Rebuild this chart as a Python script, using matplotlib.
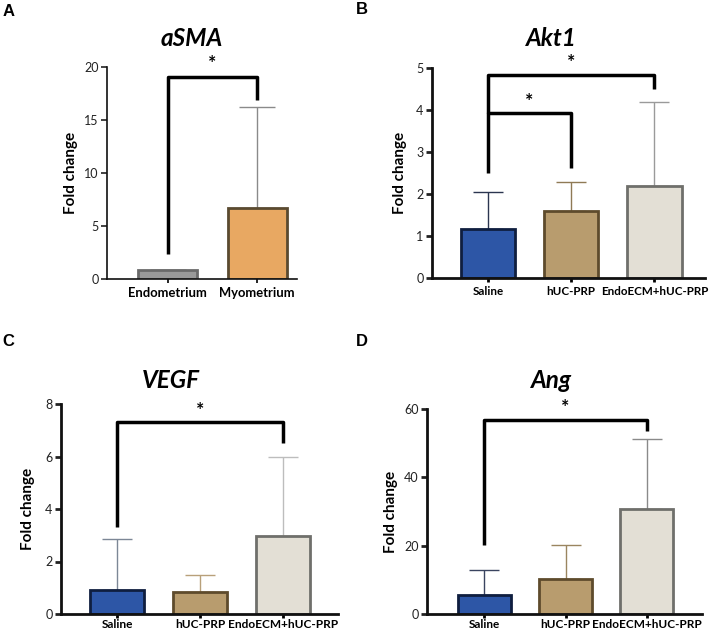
import matplotlib.pyplot as plt

plt.rcParams['font.family'] = ['Lato', 'DejaVu Sans']

# Panel A: aSMA
asma_groups = ["Endometrium", "Myometrium"]
asma_mean = [0.88, 6.72]
asma_top = [0.88, 16.2]

# Panels B-D share the same three groups
groups = ["Saline", "hUC-PRP", "EndoECM+hUC-PRP"]
akt1_mean = [1.17, 1.60, 2.20]
akt1_top = [2.04, 2.29, 4.18]
vegf_mean = [0.90, 0.83, 2.97]
vegf_top = [2.87, 1.48, 6.00]
ang_mean = [5.66, 10.3, 30.8]
ang_top = [13.0, 20.1, 51.2]

# brackets: (i, j, bar height, left leg end, right leg end, star y)
asma_sig = [(0, 1, 19.05, 2.4, 16.9, 20.3)]
akt1_sig = [(0, 1, 3.93, 2.5, 2.62, 4.2), (0, 2, 4.84, 3.93, 4.5, 5.12)]
vegf_sig = [(0, 2, 7.3, 3.32, 6.53, 7.75)]
ang_sig = [(0, 2, 56.7, 20.3, 53.7, 60.4)]

c3_face = ["#2d56a6", "#b89c6e", "#e3dfd5"]
c3_edge = ["#0f1e3f", "#5e4b2c", "#6f6f6b"]
c3_err = ["#2b3550", "#8f7a55", "#9a9a9a"]

W, H = 711, 632
fig = plt.figure(figsize=(W / 100, H / 100), dpi=100)


def px_axes(x0, y_top, x1, y_bot):
    return fig.add_axes([x0 / W, 1 - y_bot / H, (x1 - x0) / W, (y_bot - y_top) / H])


def panel(ax, names, means, tops, face, edge, errc, ymax, yticks, xlim,
          sigs, width, capsize, spine_w, xpad=2, xsize=8.5):
    x = list(range(len(names)))
    up = [t - m for t, m in zip(tops, means)]
    for i in x:
        ax.errorbar(i, means[i], yerr=[[0], [up[i]]], color=errc[i], lw=1,
                    capsize=capsize, capthick=1, zorder=1)
    ax.bar(x, means, width=width, color=face, edgecolor=edge, linewidth=2,
           zorder=2)
    ax.set_xlim(*xlim)
    ax.set_ylim(0, ymax)
    ax.set_yticks(yticks)
    ax.set_xticks(x)
    ax.set_xticklabels(names, fontweight="bold", fontsize=xsize)
    ax.tick_params(axis="y", labelsize=9, colors="#222222", width=spine_w,
                   length=4, pad=2)
    ax.tick_params(axis="x", width=spine_w, length=3, pad=xpad)
    for s in ["top", "right"]:
        ax.spines[s].set_visible(False)
    for s in ["left", "bottom"]:
        ax.spines[s].set_linewidth(spine_w)
        ax.spines[s].set_color("#111111")
    ax.set_ylabel("Fold change", fontweight="bold", fontsize=11)
    for i, j, yb, yl, yr, ys in sigs:
        ax.plot([i, i, j, j], [yl, yb, yb, yr], color="black", lw=2.5,
                clip_on=False, solid_capstyle="butt", zorder=3)
        ax.text((i + j) / 2, ys, "*", ha="center", va="center",
                fontsize=14, fontweight="bold", clip_on=False)


axA = px_axes(107, 67, 297, 279)
panel(axA, asma_groups, asma_mean, asma_top, ["#999999", "#e8a862"],
      ["#6a6a6a", "#5a4a30"], ["#777777", "#8a8a8a"], 20, [0, 5, 10, 15, 20],
      (-0.676, 1.446), asma_sig, 0.66, 13, 1.2, xpad=3, xsize=9.4)
axA.yaxis.set_label_coords(-0.153, 0.5)

axB = px_axes(432, 68, 705, 278)
panel(axB, groups, akt1_mean, akt1_top, c3_face, c3_edge, c3_err, 5,
      [0, 1, 2, 3, 4, 5], (-0.673, 2.607), akt1_sig, 0.65, 11, 2, xpad=3,
      xsize=8.4)
axB.yaxis.set_label_coords(-0.092, 0.5)

axC = px_axes(61, 404, 338, 614)
panel(axC, groups, vegf_mean, vegf_top, c3_face, c3_edge,
      ["#7c8796", "#b8a07a", "#bdbdbd"], 8, [0, 2, 4, 6, 8],
      (-0.675, 2.66), vegf_sig, 0.65, 11, 2, xpad=0.5, xsize=8.6)
axC.yaxis.set_label_coords(-0.094, 0.5)

axD = px_axes(427, 409, 702, 614)
panel(axD, groups, ang_mean, ang_top, c3_face, c3_edge,
      ["#3a4460", "#9a8560", "#8a8a8a"], 60, [0, 20, 40, 60],
      (-0.708, 2.68), ang_sig, 0.65, 11, 2, xpad=0.5, xsize=8.5)
axD.yaxis.set_label_coords(-0.105, 0.5)

# gene titles
title_kw = dict(ha="center", va="center", fontsize=17.5, fontweight="bold",
                fontstyle="italic")
fig.text(192 / W, 1 - 38 / H, "aSMA", **title_kw)
fig.text(551 / W, 1 - 38 / H, "Akt1", **title_kw)
fig.text(171 / W, 1 - 380 / H, "VEGF", **title_kw)
fig.text(551 / W, 1 - 380 / H, "Ang", **title_kw)

# panel letters
letter_kw = dict(ha="left", va="center", fontsize=12, fontweight="bold",
                 family="Liberation Sans")
fig.text(3 / W, 1 - 11 / H, "A", **letter_kw)
fig.text(356 / W, 1 - 10 / H, "B", **letter_kw)
fig.text(2 / W, 1 - 342 / H, "C", **letter_kw)
fig.text(356 / W, 1 - 341 / H, "D", **letter_kw)

fig.savefig("out.png", dpi=100)
